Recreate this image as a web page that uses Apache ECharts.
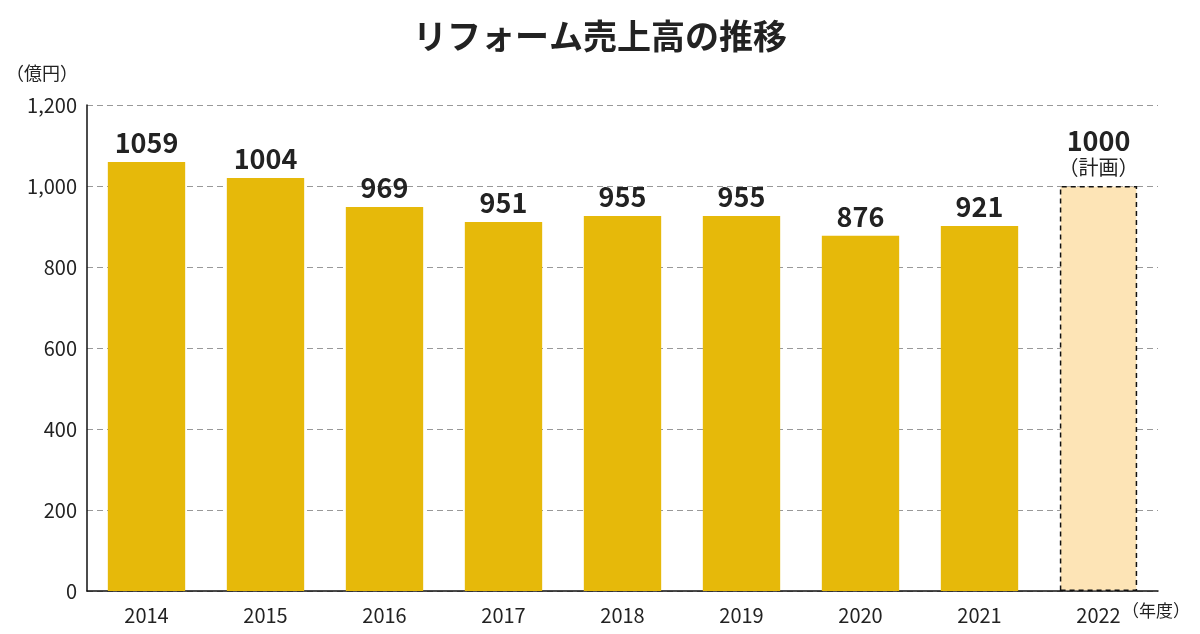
<!DOCTYPE html>
<html>
<head>
<meta charset="utf-8">
<script src="https://cdn.jsdelivr.net/npm/echarts@6/dist/echarts.min.js"></script>
<style>
  html, body { margin: 0; padding: 0; background: #fff; }
  #chart { width: 1200px; height: 634px; }
</style>
</head>
<body>
<div id="chart"></div>
<script>
const years = ['2014', '2015', '2016', '2017', '2018', '2019', '2020', '2021', '2022'];
// bar heights as drawn in the picture
const barValues = [1059, 1020, 948, 911, 926, 926, 877, 901, 1000];
// printed labels above the bars
const labelTexts = ['1059', '1004', '969', '951', '955', '955', '876', '921', '1000\n（計画）'];
const yTicks = [0, 200, 400, 600, 800, 1000, 1200];

const FONT = '"Noto Sans CJK JP", "Noto Sans", sans-serif';
const chart = echarts.init(document.getElementById('chart'));

chart.setOption({
  animation: false,
  title: {
    text: 'リフォーム売上高の推移',
    left: 'center',
    top: 14,
    textStyle: { fontFamily: FONT, fontSize: 34, fontWeight: 'bold', color: '#222' }
  },
  grid: { left: 87, right: 42, top: 105, bottom: 43 },
  xAxis: {
    type: 'category',
    data: years,
    axisLine: { lineStyle: { color: '#111', width: 1.5 } },
    axisTick: { show: false },
    axisLabel: { fontFamily: FONT, fontSize: 20, color: '#222', margin: 14 }
  },
  yAxis: {
    type: 'value',
    min: yTicks[0],
    max: yTicks[yTicks.length - 1],
    interval: 200,
    axisLine: { show: true, lineStyle: { color: '#111', width: 1.5 } },
    axisTick: { show: false },
    axisLabel: { fontFamily: FONT, fontSize: 20, color: '#222', margin: 10 },
    splitLine: { lineStyle: { color: '#999', type: [6, 4] } }
  },
  graphic: [
    { type: 'text', left: 6, top: 64, style: { text: '（億円）', font: '18px ' + FONT, fill: '#222' } },
    { type: 'text', left: 1122, top: 602, style: { text: '（年度）', font: '17px ' + FONT, fill: '#222' } }
  ],
  series: [{
    type: 'bar',
    barWidth: '65%',
    data: barValues.map((v, i) => {
      const last = i === barValues.length - 1;
      return {
        value: v,
        itemStyle: last
          ? { color: '#fde4b6', borderColor: '#111', borderWidth: 1.5, borderType: [5, 4] }
          : { color: '#e6b90a' },
        label: last ? { lineHeight: 26, rich: {} } : {}
      };
    }),
    label: {
      show: true,
      position: 'top',
      distance: 6,
      formatter: p => labelTexts[p.dataIndex].replace('\n（計画）', '\n{s|（計画）}'),
      fontFamily: FONT,
      fontSize: 27,
      fontWeight: 'bold',
      color: '#222',
      rich: { s: { fontFamily: FONT, fontSize: 20, color: '#222', fontWeight: 'normal' } }
    }
  }]
});
</script>
</body>
</html>
